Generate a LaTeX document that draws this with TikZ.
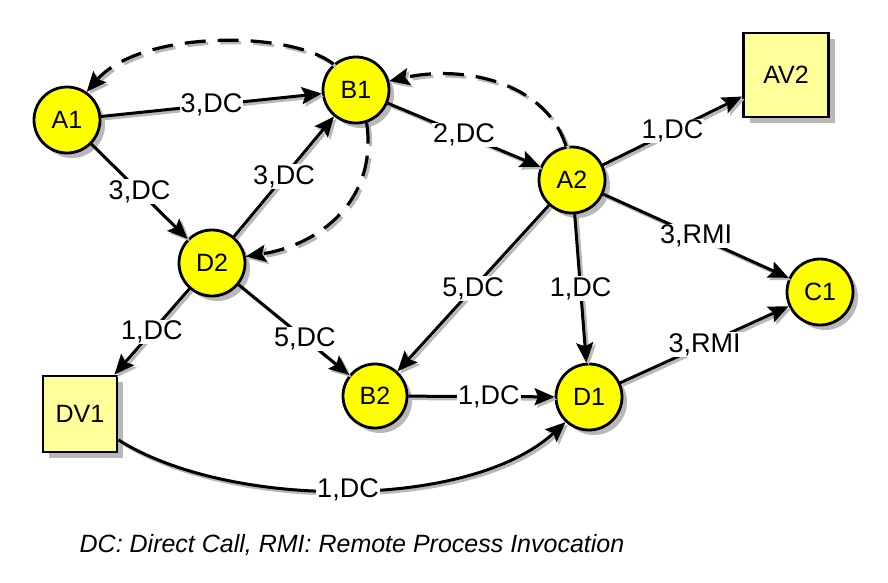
\documentclass[tikz,border=0pt]{standalone}
\usepackage{fontspec}
\setmainfont{Liberation Sans}
\usetikzlibrary{arrows.meta,shadows}
\definecolor{nodeyellow}{HTML}{FFFF00}
\definecolor{boxyellow}{HTML}{FFFF99}
\definecolor{shadowgray}{HTML}{B8B8B8}
\begin{document}
\begin{tikzpicture}[x=1pt,y=-1pt,
  >={Stealth[length=20pt,width=17pt,inset=3.5pt]},
  comp/.style={circle, draw=black, line width=2.8pt, fill=nodeyellow,
    minimum size=66pt, inner sep=0pt, font=\fontsize{25}{28}\selectfont,
    drop shadow={shadow xshift=5pt, shadow yshift=-5pt, fill=shadowgray, opacity=1}},
  boxnode/.style={rectangle, draw=black, line width=2.8pt, fill=boxyellow,
    inner sep=0pt, font=\fontsize{25}{28}\selectfont,
    drop shadow={shadow xshift=6pt, shadow yshift=-6pt, fill=shadowgray, opacity=1}},
  edge/.style={line width=3pt, ->,
    preaction={draw=shadowgray, line width=3pt, ->, transform canvas={shift={(2.5pt,-2.5pt)}}}},
  dashededge/.style={line width=3.2pt, ->, dash pattern=on 21pt off 12pt,
    preaction={draw=shadowgray, line width=3.2pt, ->, dash pattern=on 21pt off 12pt,
      transform canvas={shift={(2.5pt,-2.5pt)}}}},
  lbl/.style={fill=white, inner sep=1pt, font=\fontsize{27}{30}\selectfont},
  caption/.style={font=\fontsize{25}{28}\selectfont\itshape}
]
\useasboundingbox (0,0) rectangle (888,582);

\node[comp] (A1) at (67,120) {A1};
\node[comp] (B1) at (356,90) {B1};
\node[comp] (A2) at (572,180) {A2};
\node[boxnode, minimum width=85pt, minimum height=84pt] (AV2) at (786,75) {AV2};
\node[comp] (D2) at (212,263) {D2};
\node[comp] (C1) at (820,292) {C1};
\node[comp] (D1) at (589,397) {D1};
\node[comp, minimum size=64pt] (B2) at (375,396) {B2};
\node[boxnode, minimum width=74pt, minimum height=76pt] (DV1) at (80,414) {DV1};

\draw[edge] (A1) -- node[lbl]{3,DC} (B1);
\draw[edge] (A1) -- node[lbl]{3,DC} (D2);
\draw[edge] (D2) -- node[lbl]{3,DC} (B1);
\draw[edge] (B1) -- node[lbl]{2,DC} (A2);
\draw[edge] (A2) -- node[lbl]{1,DC} (AV2);
\draw[edge] (A2) -- node[lbl]{3,RMI} (C1);
\draw[edge] (A2) -- node[lbl]{1,DC} (D1);
\draw[edge] (A2) -- node[lbl]{5,DC} (B2);
\draw[edge] (D2) -- node[lbl]{1,DC} (DV1);
\draw[edge] (D2) -- node[lbl,pos=0.6]{5,DC} (B2);
\draw[edge] (B2) -- node[lbl,pos=0.55]{1,DC} (D1);
\draw[edge] (D1) -- node[lbl]{3,RMI} (C1);
\draw[edge] (DV1.-34) .. controls (230,510) and (470,510) .. node[lbl]{1,DC} (D1.227);

\draw[dashededge] (B1.131) .. controls (290,30) and (140,30) .. (A1.55);
\draw[dashededge] (A2.100) .. controls (545,80) and (460,65) .. (B1.15);
\draw[dashededge] (B1.-72) .. controls (378,200) and (320,245) .. (D2.11);

\node[caption] (cap) at (352,545) {DC: Direct Call, RMI: Remote Process Invocation};
\end{tikzpicture}
\end{document}
